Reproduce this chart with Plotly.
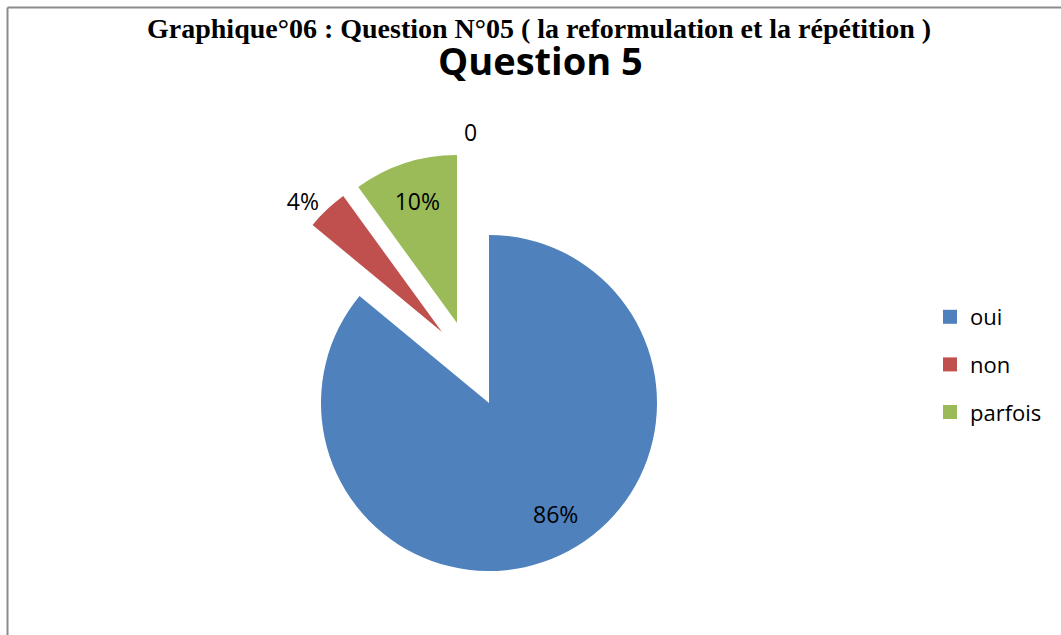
import plotly.graph_objects as go

# ---- data ----
categories = ["oui", "non", "parfois"]
values = [86, 4, 10]
colors = ["#4F81BD", "#C0504D", "#9BBB59"]
title_main = "Graphique°06 : Question N°05 ( la reformulation et la répétition )"
title_sub = "Question 5"
extra_label = "0"

# ---- layout helpers (pixel geometry) ----
W, H = 1061, 635
R = 168
centers = [(489, 403), (442, 332), (457, 323)]   # exploded slice vertices
textpos = ["none", "outside", "inside"]
FONT = "Open Sans"
total = sum(values)


def dom(cx, cy):
    return dict(x=[(cx - R) / W, (cx + R) / W],
                y=[1 - (cy + R) / H, 1 - (cy - R) / H])


fig = go.Figure()
for i, cat in enumerate(categories):
    cols = [c if j == i else "rgba(0,0,0,0)" for j, c in enumerate(colors)]
    tt = ["%{percent:.0%}" if j == i else "" for j in range(len(categories))]
    fig.add_trace(go.Pie(
        labels=categories, values=values, sort=False, direction="clockwise",
        rotation=0, marker=dict(colors=cols, line=dict(width=0)),
        texttemplate=tt, textposition=textpos[i],
        textfont=dict(family=FONT, size=23, color="black"),
        insidetextorientation="horizontal",
        domain=dom(*centers[i]), showlegend=False, hoverinfo="label+percent",
    ))

for cat, col in zip(categories, colors):
    fig.add_trace(go.Scatter(
        x=[None], y=[None], mode="markers", name=cat, legendgroup=cat,
        marker=dict(symbol="square", size=14, color=col), hoverinfo="skip",
    ))

fig.update_layout(
    width=W, height=H, margin=dict(l=0, r=0, t=0, b=0),
    paper_bgcolor="white", plot_bgcolor="rgba(0,0,0,0)",
    xaxis=dict(visible=False), yaxis=dict(visible=False),
    font=dict(family=FONT, color="black"),
    legend=dict(x=930 / W, xanchor="left", y=1 - 296 / H, yanchor="top",
                font=dict(family=FONT, size=22, color="black"),
                tracegroupgap=16, bgcolor="rgba(0,0,0,0)", itemwidth=30),
    annotations=[
        dict(text="<b>" + title_main + "</b>", x=539 / W, y=1 - 28 / H,
             xref="paper", yref="paper", xanchor="center", yanchor="middle",
             showarrow=False, font=dict(family="Liberation Serif", size=28, color="black")),
        dict(text="<b>" + title_sub + "</b>", x=540 / W, y=1 - 60 / H,
             xref="paper", yref="paper", xanchor="center", yanchor="middle",
             showarrow=False, font=dict(family=FONT, size=38, color="black")),
        dict(text=extra_label, x=470 / W, y=1 - 132 / H,
             xref="paper", yref="paper", xanchor="center", yanchor="middle",
             showarrow=False, font=dict(family=FONT, size=23, color="black")),
        dict(text=f"{round(100 * values[0] / total)}%", x=555 / W, y=1 - 514 / H,
             xref="paper", yref="paper", xanchor="center", yanchor="middle",
             showarrow=False, font=dict(family=FONT, size=23, color="black")),
    ],
    shapes=[
        dict(type="line", xref="paper", yref="paper", x0=7.5 / W, x1=1, y0=1 - 7.5 / H, y1=1 - 7.5 / H,
             line=dict(color="#8c8c8c", width=2)),
        dict(type="line", xref="paper", yref="paper", x0=7.5 / W, x1=7.5 / W, y0=1 - 7.5 / H, y1=0,
             line=dict(color="#8c8c8c", width=2)),
    ],
)

fig.write_html("out.html", config={"displayModeBar": False},
               post_script="document.body.style.margin='0';")
